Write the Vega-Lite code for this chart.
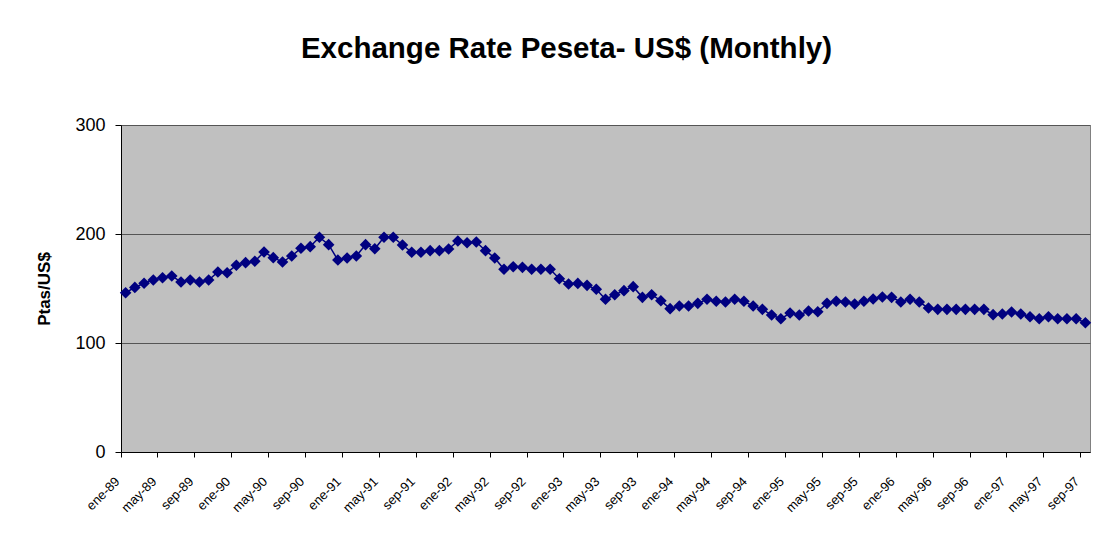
{
  "$schema": "https://vega.github.io/schema/vega-lite/v6.json",
  "width": 969,
  "height": 327,
  "autosize": {"type": "none"},
  "padding": {"left": 121, "top": 125, "right": 17, "bottom": 86},
  "background": "white",
  "title": {
    "text": "Exchange Rate Peseta- US$ (Monthly)",
    "font": "Liberation Sans",
    "fontSize": 29.5,
    "fontWeight": "bold",
    "color": "black",
    "anchor": "middle",
    "baseline": "alphabetic",
    "dx": -39,
    "offset": 29
  },
  "data": {
    "values": [
      {"month": "ene-89", "rate": 146.1}, {"month": "feb-89", "rate": 151.0}, {"month": "mar-89", "rate": 154.8}, {"month": "abr-89", "rate": 157.8},
      {"month": "may-89", "rate": 159.9}, {"month": "jun-89", "rate": 161.5}, {"month": "jul-89", "rate": 156.0}, {"month": "ago-89", "rate": 157.8},
      {"month": "sep-89", "rate": 156.0}, {"month": "oct-89", "rate": 157.8}, {"month": "nov-89", "rate": 165.1}, {"month": "dic-89", "rate": 164.5},
      {"month": "ene-90", "rate": 171.3}, {"month": "feb-90", "rate": 173.7}, {"month": "mar-90", "rate": 175.0}, {"month": "abr-90", "rate": 183.5},
      {"month": "may-90", "rate": 178.3}, {"month": "jun-90", "rate": 174.3}, {"month": "jul-90", "rate": 179.8}, {"month": "ago-90", "rate": 186.9},
      {"month": "sep-90", "rate": 188.4}, {"month": "oct-90", "rate": 197.0}, {"month": "nov-90", "rate": 190.2}, {"month": "dic-90", "rate": 176.1},
      {"month": "ene-91", "rate": 178.0}, {"month": "feb-91", "rate": 179.8}, {"month": "mar-91", "rate": 190.2}, {"month": "abr-91", "rate": 186.5},
      {"month": "may-91", "rate": 197.0}, {"month": "jun-91", "rate": 197.0}, {"month": "jul-91", "rate": 189.9}, {"month": "ago-91", "rate": 183.2},
      {"month": "sep-91", "rate": 183.2}, {"month": "oct-91", "rate": 184.7}, {"month": "nov-91", "rate": 184.7}, {"month": "dic-91", "rate": 186.2},
      {"month": "ene-92", "rate": 193.6}, {"month": "feb-92", "rate": 192.0}, {"month": "mar-92", "rate": 192.7}, {"month": "abr-92", "rate": 184.7},
      {"month": "may-92", "rate": 178.0}, {"month": "jun-92", "rate": 167.6}, {"month": "jul-92", "rate": 170.0}, {"month": "ago-92", "rate": 169.4},
      {"month": "sep-92", "rate": 167.6}, {"month": "oct-92", "rate": 167.6}, {"month": "nov-92", "rate": 167.6}, {"month": "dic-92", "rate": 159.0},
      {"month": "ene-93", "rate": 154.1}, {"month": "feb-93", "rate": 154.7}, {"month": "mar-93", "rate": 152.9}, {"month": "abr-93", "rate": 149.3},
      {"month": "may-93", "rate": 140.1}, {"month": "jun-93", "rate": 144.3}, {"month": "jul-93", "rate": 148.0}, {"month": "ago-93", "rate": 151.7},
      {"month": "sep-93", "rate": 141.9}, {"month": "oct-93", "rate": 144.3}, {"month": "nov-93", "rate": 138.8}, {"month": "dic-93", "rate": 131.5},
      {"month": "ene-94", "rate": 133.9}, {"month": "feb-94", "rate": 133.9}, {"month": "mar-94", "rate": 136.4}, {"month": "abr-94", "rate": 140.1},
      {"month": "may-94", "rate": 138.3}, {"month": "jun-94", "rate": 137.6}, {"month": "jul-94", "rate": 140.1}, {"month": "ago-94", "rate": 138.3},
      {"month": "sep-94", "rate": 133.9}, {"month": "oct-94", "rate": 130.9}, {"month": "nov-94", "rate": 125.7}, {"month": "dic-94", "rate": 122.2},
      {"month": "ene-95", "rate": 127.5}, {"month": "feb-95", "rate": 125.7}, {"month": "mar-95", "rate": 129.4}, {"month": "abr-95", "rate": 128.7},
      {"month": "may-95", "rate": 136.4}, {"month": "jun-95", "rate": 138.3}, {"month": "jul-95", "rate": 137.6}, {"month": "ago-95", "rate": 135.8},
      {"month": "sep-95", "rate": 138.3}, {"month": "oct-95", "rate": 140.4}, {"month": "nov-95", "rate": 142.2}, {"month": "dic-95", "rate": 141.9},
      {"month": "ene-96", "rate": 137.6}, {"month": "feb-96", "rate": 140.1}, {"month": "mar-96", "rate": 137.6}, {"month": "abr-96", "rate": 132.1},
      {"month": "may-96", "rate": 130.9}, {"month": "jun-96", "rate": 130.9}, {"month": "jul-96", "rate": 130.9}, {"month": "ago-96", "rate": 130.9},
      {"month": "sep-96", "rate": 130.9}, {"month": "oct-96", "rate": 130.9}, {"month": "nov-96", "rate": 126.0}, {"month": "dic-96", "rate": 126.6},
      {"month": "ene-97", "rate": 128.4}, {"month": "feb-97", "rate": 126.6}, {"month": "mar-97", "rate": 124.1}, {"month": "abr-97", "rate": 122.3},
      {"month": "may-97", "rate": 124.1}, {"month": "jun-97", "rate": 122.3}, {"month": "jul-97", "rate": 122.3}, {"month": "ago-97", "rate": 122.3},
      {"month": "sep-97", "rate": 118.6}
    ]
  },
  "encoding": {
    "x": {
      "field": "month",
      "type": "ordinal",
      "sort": null,
      "scale": {"type": "band", "paddingInner": 0, "paddingOuter": 0},
      "axis": {
        "title": null,
        "values": ["ene-89", "may-89", "sep-89", "ene-90", "may-90", "sep-90", "ene-91", "may-91", "sep-91", "ene-92", "may-92", "sep-92", "ene-93", "may-93", "sep-93", "ene-94", "may-94", "sep-94", "ene-95", "may-95", "sep-95", "ene-96", "may-96", "sep-96", "ene-97", "may-97", "sep-97"],
        "bandPosition": 0,
        "labelAngle": -45,
        "labelAlign": "right",
        "labelBaseline": "middle",
        "labelOffset": -8,
        "labelPadding": 22,
        "labelFont": "Liberation Sans",
        "labelFontSize": 13,
        "labelColor": "black",
        "tickSize": 5,
        "tickColor": "black",
        "domainColor": "black",
        "domainWidth": 1,
        "grid": false
      }
    },
    "y": {
      "field": "rate",
      "type": "quantitative",
      "scale": {"domain": [0, 300], "nice": false},
      "axis": {
        "title": "Ptas/US$",
        "titleFont": "Liberation Sans",
        "titleFontSize": 17,
        "titleFontWeight": "bold",
        "titleColor": "black",
        "titlePadding": 21,
        "values": [0, 100, 200, 300],
        "labelFont": "Liberation Sans",
        "labelFontSize": 18,
        "labelColor": "black",
        "labelPadding": 10,
        "tickSize": 6,
        "tickColor": "black",
        "domainColor": "black",
        "grid": true,
        "gridColor": "#555555",
        "gridWidth": 1
      }
    }
  },
  "layer": [
    {"mark": {"type": "line", "color": "#000080", "strokeWidth": 1.5}},
    {"mark": {"type": "point", "shape": "diamond", "filled": true, "size": 135, "color": "#000080", "opacity": 1}}
  ],
  "config": {
    "view": {"fill": "#C0C0C0", "stroke": "#808080", "strokeWidth": 1}
  }
}
